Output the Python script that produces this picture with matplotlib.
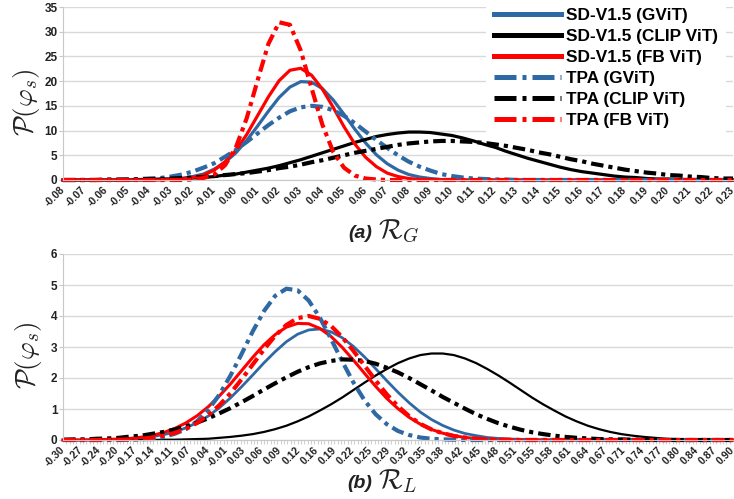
import numpy as np
import matplotlib
matplotlib.use("Agg")
import matplotlib.pyplot as plt
from matplotlib.transforms import ScaledTranslation

plt.rcParams['mathtext.fontset'] = 'cm'
plt.rcParams['font.family'] = 'Liberation Sans'

names = ['SD-V1.5 (GViT)', 'SD-V1.5 (CLIP ViT)', 'SD-V1.5 (FB ViT)',
         'TPA (GViT)', 'TPA (CLIP ViT)', 'TPA (FB ViT)']
colors = ['#2f69a3', 'black', 'red', '#2f69a3', 'black', 'red']

# (a) R_G, density read every 0.005 from -0.08 to 0.23
x_rg = np.linspace(-0.08, 0.23, 63)
rg_sd_gvit = [0] * 9 + [0.1, 0.2, 0.3, 0.7, 1.2, 2.2, 3.6, 5.5, 8.0, 10.9, 13.9, 16.7, 18.8, 19.9, 19.8,
                        18.5, 16.2, 13.3, 10.3, 7.5, 5.1, 3.3, 2.0, 1.1, 0.6, 0.3, 0.1, 0.1] + [0] * 26
rg_sd_clip = [0] * 7 + [0.1, 0.1, 0.2, 0.2, 0.3, 0.4, 0.5, 0.7, 1.0, 1.2, 1.6, 2.0, 2.4, 2.9, 3.5, 4.1, 4.8,
                        5.5, 6.2, 6.9, 7.6, 8.2, 8.8, 9.2, 9.5, 9.7, 9.7, 9.6, 9.3, 9.0, 8.5, 7.9, 7.2, 6.6,
                        5.8, 5.1, 4.4, 3.8, 3.2, 2.6, 2.1, 1.7, 1.4, 1.1, 0.8, 0.6, 0.5, 0.3, 0.2, 0.2, 0.1,
                        0.1, 0.1] + [0] * 3
rg_sd_fb = [0] * 10 + [0.1, 0.2, 0.5, 1.0, 2.0, 3.7, 6.0, 9.2, 13.0, 16.8, 20.1, 22.2, 22.6, 21.2, 18.4,
                       14.7, 10.8, 7.3, 4.6, 2.7, 1.4, 0.7, 0.3, 0.1, 0.1] + [0] * 28
rg_tpa_gvit = [0] * 6 + [0.1, 0.2, 0.3, 0.4, 0.7, 1.1, 1.7, 2.5, 3.4, 4.7, 6.1, 7.7, 9.4, 11.1, 12.6, 13.9,
                         14.7, 15.0, 14.8, 14.1, 13.0, 11.5, 9.8, 8.1, 6.5, 5.0, 3.7, 2.7, 1.9, 1.2, 0.8,
                         0.5, 0.3, 0.2, 0.1, 0.1] + [0] * 21
rg_tpa_clip = [0] * 4 + [0.1, 0.1, 0.1, 0.1, 0.2, 0.2, 0.3, 0.4, 0.5, 0.6, 0.8, 1.0, 1.2, 1.4, 1.7, 2.0,
                         2.4, 2.7, 3.1, 3.6, 4.0, 4.5, 5.0, 5.5, 5.9, 6.3, 6.7, 7.1, 7.4, 7.6, 7.8, 7.9,
                         7.9, 7.8, 7.7, 7.5, 7.2, 6.9, 6.5, 6.1, 5.6, 5.2, 4.7, 4.2, 3.8, 3.3, 2.9, 2.5,
                         2.1, 1.8, 1.5, 1.3, 1.0, 0.9, 0.7, 0.6, 0.4, 0.3, 0.3]
rg_tpa_fb = [0] * 12 + [0.1, 0.4, 1.1, 3.0, 6.6, 12.5, 20.1, 27.5, 31.9, 31.4, 26.2, 18.6, 11.2, 5.7, 2.5,
                        0.9, 0.3, 0.1] + [0] * 33
rg_ticks = ['-0.08', '-0.07', '-0.06', '-0.05', '-0.04', '-0.03', '-0.02', '-0.01', '0.00', '0.01',
            '0.02', '0.03', '0.04', '0.05', '0.06', '0.07', '0.08', '0.09', '0.10', '0.11', '0.12',
            '0.13', '0.14', '0.15', '0.16', '0.17', '0.18', '0.19', '0.20', '0.21', '0.22', '0.23']

# (b) R_L, density read every 0.02 from -0.30 to 0.90
x_rl = np.linspace(-0.30, 0.90, 61)
rl_sd_gvit = [0] * 3 + [0.01, 0.01, 0.02, 0.04, 0.07, 0.11, 0.17, 0.26, 0.39, 0.56, 0.77, 1.04, 1.36, 1.72,
                        2.10, 2.49, 2.85, 3.17, 3.41, 3.55, 3.58, 3.49, 3.30, 3.02, 2.68, 2.30, 1.91, 1.54,
                        1.20, 0.90, 0.66, 0.47, 0.32, 0.21, 0.14, 0.08, 0.05, 0.03, 0.02, 0.01] + [0] * 18
rl_sd_clip = [0] * 9 + [0.01, 0.01, 0.02, 0.03, 0.04, 0.07, 0.10, 0.14, 0.19, 0.26, 0.35, 0.46, 0.60, 0.76,
                        0.95, 1.15, 1.37, 1.61, 1.85, 2.08, 2.29, 2.48, 2.63, 2.74, 2.79, 2.79, 2.74, 2.63,
                        2.48, 2.29, 2.08, 1.85, 1.61, 1.37, 1.15, 0.95, 0.76, 0.60, 0.46, 0.35, 0.26, 0.19,
                        0.14, 0.10, 0.07, 0.04, 0.03, 0.02, 0.01, 0.01] + [0] * 2
rl_sd_fb = [0] * 3 + [0.01, 0.02, 0.03, 0.05, 0.09, 0.15, 0.24, 0.37, 0.55, 0.78, 1.07, 1.42, 1.81, 2.24,
                      2.67, 3.07, 3.40, 3.64, 3.76, 3.75, 3.60, 3.34, 2.99, 2.58, 2.15, 1.73, 1.34, 1.01,
                      0.73, 0.51, 0.34, 0.22, 0.14, 0.08, 0.05, 0.03, 0.01, 0.01] + [0] * 20
rl_tpa_gvit = [0] * 6 + [0.01, 0.02, 0.05, 0.10, 0.20, 0.35, 0.60, 0.97, 1.46, 2.08, 2.78, 3.51, 4.16, 4.65,
                         4.88, 4.83, 4.50, 3.95, 3.26, 2.54, 1.86, 1.28, 0.83, 0.51, 0.29, 0.16, 0.08, 0.04,
                         0.02, 0.01] + [0] * 25
rl_tpa_clip = [0.01, 0.02, 0.02, 0.04, 0.05, 0.07, 0.11, 0.14, 0.20, 0.26, 0.34, 0.44, 0.56, 0.70, 0.86,
               1.03, 1.22, 1.42, 1.63, 1.83, 2.02, 2.20, 2.35, 2.47, 2.55, 2.60, 2.59, 2.55, 2.46, 2.33,
               2.18, 2.00, 1.80, 1.60, 1.39, 1.20, 1.01, 0.83, 0.68, 0.54, 0.43, 0.33, 0.25, 0.19, 0.14,
               0.10, 0.07, 0.05, 0.03, 0.02, 0.02, 0.01, 0.01] + [0] * 8
rl_tpa_fb = [0] * 4 + [0.01, 0.01, 0.02, 0.04, 0.08, 0.14, 0.23, 0.36, 0.55, 0.80, 1.12, 1.51, 1.96, 2.44,
                       2.92, 3.36, 3.71, 3.93, 4.00, 3.91, 3.68, 3.32, 2.88, 2.40, 1.92, 1.47, 1.09, 0.77,
                       0.52, 0.34, 0.22, 0.13, 0.08, 0.04, 0.02, 0.01, 0.01] + [0] * 20
rl_ticks = ['-0.30', '-0.27', '-0.24', '-0.20', '-0.17', '-0.14', '-0.11', '-0.07', '-0.04', '-0.01',
            '0.03', '0.06', '0.09', '0.12', '0.16', '0.19', '0.22', '0.25', '0.29', '0.32', '0.35',
            '0.38', '0.42', '0.45', '0.48', '0.51', '0.55', '0.58', '0.61', '0.64', '0.67', '0.71',
            '0.74', '0.77', '0.80', '0.84', '0.87', '0.90']

rg_curves = [rg_sd_gvit, rg_sd_clip, rg_sd_fb, rg_tpa_gvit, rg_tpa_clip, rg_tpa_fb]
rl_curves = [rl_sd_gvit, rl_sd_clip, rl_sd_fb, rl_tpa_gvit, rl_tpa_clip, rl_tpa_fb]

fig = plt.figure(figsize=(7.34, 4.99), dpi=100)
ax1 = fig.add_axes([63/734, 1-180/499, 670/734, 173/499])
ax2 = fig.add_axes([63/734, 1-440/499, 670/734, 186/499])

grey = '#c8c8c8'
shift = ScaledTranslation(-6/100, 0, fig.dpi_scale_trans)  # keep rotated labels inside the figure
setups = [(ax1, x_rg, rg_curves, [2.3, 2.3, 2.3], rg_ticks, 35, 5),
          (ax2, x_rl, rl_curves, [2.0, 1.6, 2.2], rl_ticks, 6, 1)]
for ax, x, curves, solid_lw, ticks, ymax, ystep in setups:
    for i, y in enumerate(curves):
        if i < 3:
            ax.plot(x, y, color=colors[i], lw=solid_lw[i], label=names[i], clip_on=False)
        else:
            ax.plot(x, y, color=colors[i], lw=3.0, dashes=(3, 1.2, 1, 1.2), label=names[i], clip_on=False)
    ax.set_xlim(x[0], x[-1])
    ax.set_ylim(0, ymax)
    ax.set_yticks(np.arange(0, ymax + 1, ystep))
    ax.set_xticks(np.linspace(x[0], x[-1], len(ticks)))
    ax.set_xticklabels(ticks, rotation=45, ha='right', va='center', rotation_mode='anchor',
                       fontsize=7.5, fontweight='bold', color='#222222')
    for lab in ax.get_xticklabels():
        lab.set_transform(lab.get_transform() + shift)
    for lab in ax.get_yticklabels():
        lab.set_fontweight('bold')
        lab.set_color('#222222')
    ax.grid(axis='y', color='#d9d9d9', lw=1)
    ax.set_axisbelow(True)
    ax.spines['top'].set_visible(False)
    ax.spines['right'].set_visible(False)
    ax.spines['left'].set_color(grey)
    ax.spines['bottom'].set_color(grey)
    ax.tick_params(axis='y', length=3, color=grey, labelsize=8.5, pad=1)
    ax.tick_params(axis='x', length=0, pad=6)

# dense category marks under the R_L axis
ax2.set_xticks(np.linspace(-0.30, 0.90, 201), minor=True)
ax2.tick_params(axis='x', which='minor', length=3, color='#d0d0d0', width=0.8)

leg = ax1.legend(loc='upper left', bbox_to_anchor=(486/734, 1.0), bbox_transform=fig.transFigure,
                 prop={'weight': 'bold', 'size': 12.4}, frameon=True, facecolor='white', edgecolor='none',
                 framealpha=1, fancybox=False, borderpad=0.45, borderaxespad=0, labelspacing=0.35,
                 handlelength=3.9, handletextpad=0.3)
for i, ln in enumerate(leg.get_lines()):
    ln.set_linewidth(3.6)
    if i >= 3:
        ln.set_dashes([4.4, 1.2, 0.8, 1.2])

ylab = r'$\mathcal{P}(\varphi_s)$'
fig.text(27/734, 1-102/499, ylab, rotation=90, ha='center', va='center', fontsize=19.5, color='#222222')
fig.text(28/734, 1-355/499, ylab, rotation=90, ha='center', va='center', fontsize=19.5, color='#222222')

for sub, cal, yb in [('(a)', r'$\mathcal{R}_G$', 238), ('(b)', r'$\mathcal{R}_L$', 488)]:
    fig.text(372/734, 1-yb/499, sub, ha='right', va='baseline', fontsize=14,
             fontweight='bold', fontstyle='italic', color='#222222')
    fig.text(378/734, 1-yb/499, cal, ha='left', va='baseline', fontsize=20, color='#222222')

fig.savefig('out.png', dpi=100)
